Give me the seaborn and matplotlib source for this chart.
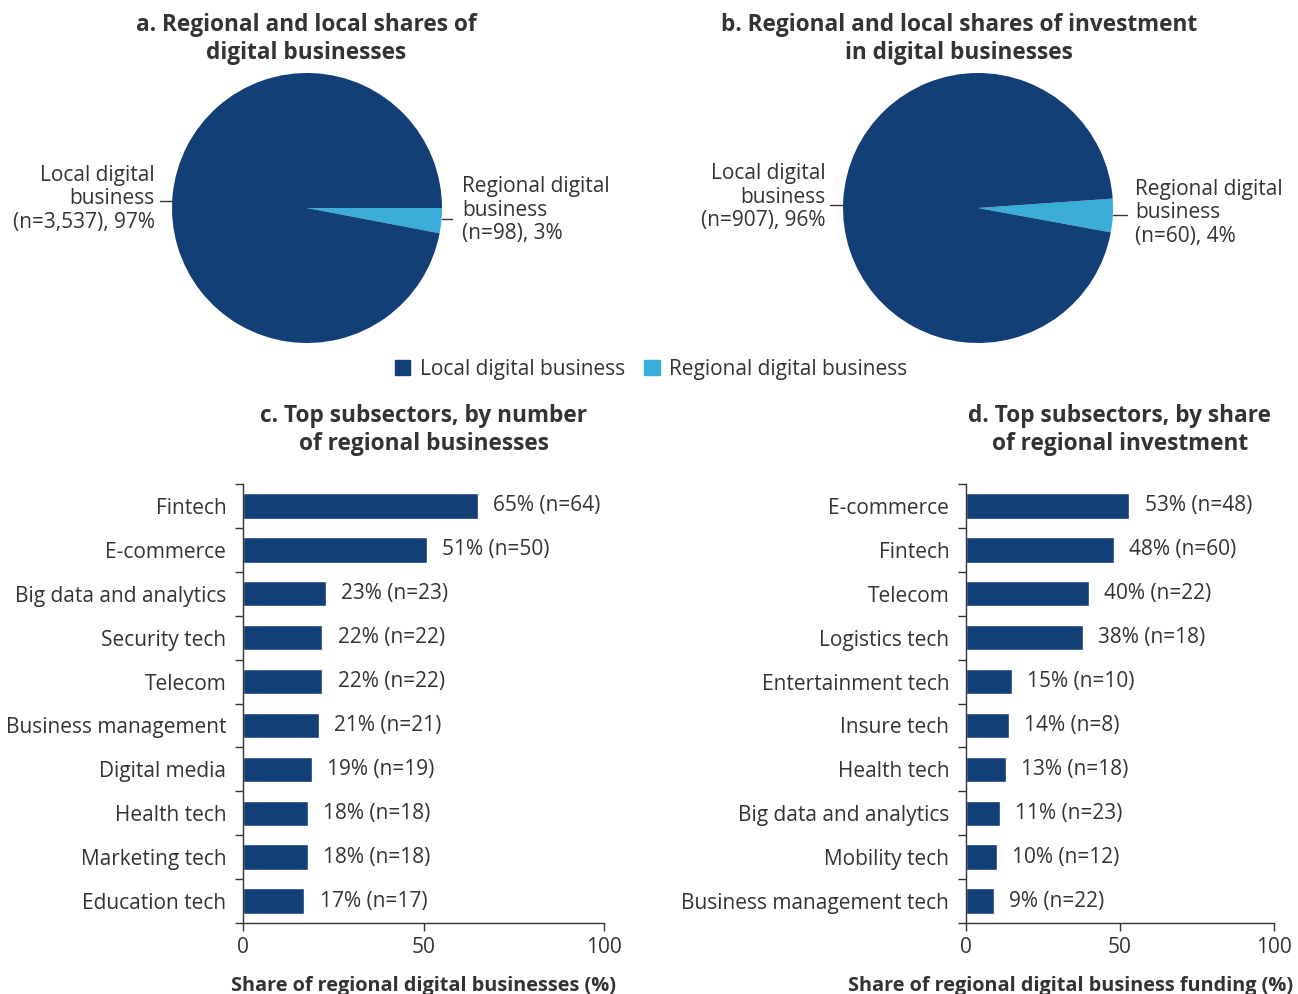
import numpy as np
import pandas as pd
import matplotlib
matplotlib.use("Agg")
import matplotlib.pyplot as plt
import seaborn as sns
from matplotlib.patches import Patch
from matplotlib.ticker import FixedLocator

# ---- data ----
pie_labels = ["Regional digital business", "Local digital business"]
pie_a_shares = [3, 97]
pie_a_n = [98, 3537]
pie_b_shares = [4, 96]
pie_b_n = [60, 907]

c_sectors = ["Fintech", "E-commerce", "Big data and analytics", "Security tech", "Telecom",
             "Business management", "Digital media", "Health tech", "Marketing tech",
             "Education tech"]
c_share = [65, 51, 23, 22, 22, 21, 19, 18, 18, 17]
c_n = [64, 50, 23, 22, 22, 21, 19, 18, 18, 17]

d_sectors = ["E-commerce", "Fintech", "Telecom", "Logistics tech", "Entertainment tech",
             "Insure tech", "Health tech", "Big data and analytics", "Mobility tech",
             "Business management tech"]
d_share = [53, 48, 40, 38, 15, 14, 13, 11, 10, 9]
d_n = [48, 60, 22, 18, 10, 8, 18, 23, 12, 22]

DARK = "#133f77"
LIGHT = "#3aaed8"
TXT = "#333333"

sns.set_theme(style="white")
plt.rcParams["font.family"] = ["Open Sans", "DejaVu Sans"]
plt.rcParams["text.color"] = TXT
plt.rcParams["axes.labelcolor"] = TXT
plt.rcParams["xtick.color"] = TXT
plt.rcParams["ytick.color"] = TXT

W, H = 1298, 994
fig = plt.figure(figsize=(W / 100, H / 100), dpi=100)


def px_axes(left, top, right, bottom):
    return fig.add_axes([left / W, 1 - bottom / H, (right - left) / W, (bottom - top) / H])


FS = 15
TFS = 16.3
XFS = 14.3


def draw_pie(ax, shares, n, start, local_xy, local_line, reg_xy, reg_line):
    ax.pie(shares, colors=[LIGHT, DARK], startangle=start, counterclock=False,
           radius=1, wedgeprops=dict(linewidth=0))
    ax.set_xlim(-1, 1)
    ax.set_ylim(-1, 1)
    ax.set_aspect("equal")
    ax.axis("off")
    ax.text(local_xy[0], local_xy[1],
            f"Local digital\nbusiness\n(n={n[1]:,}), {shares[1]}%",
            ha="right", va="center", fontsize=FS, linespacing=1.17, clip_on=False)
    ax.plot(local_line[0], local_line[1], color=TXT, lw=1, clip_on=False)
    ax.text(reg_xy[0], reg_xy[1],
            f"Regional digital\nbusiness\n(n={n[0]:,}), {shares[0]}%",
            ha="left", va="center", fontsize=FS, linespacing=1.17, clip_on=False)
    ax.plot(reg_line[0], reg_line[1], color=TXT, lw=1, clip_on=False)


ax_a = px_axes(172, 73, 442, 343)
draw_pie(ax_a, pie_a_shares, pie_a_n, 0,
         (-1.126, 0.067), ([-1.089, -1.0], [0.052, 0.052]),
         (1.148, -0.015), ([1.0, 1.074], [-0.081, -0.081]))

ax_b = px_axes(843, 73, 1113, 343)
draw_pie(ax_b, pie_b_shares, pie_b_n, 4,
         (-1.126, 0.081), ([-1.096, -1.0], [0.022, 0.022]),
         (1.163, -0.037), ([1.0, 1.10], [-0.052, -0.052]))

fig.text(306 / W, 1 - 39 / H, "a. Regional and local shares of\ndigital businesses",
         ha="center", va="center", fontsize=TFS, fontweight="bold", linespacing=1.18)
fig.text(959 / W, 1 - 39 / H, "b. Regional and local shares of investment\nin digital businesses",
         ha="center", va="center", fontsize=TFS, fontweight="bold", linespacing=1.18)

handles = [Patch(color=DARK, label="Local digital business"),
           Patch(color=LIGHT, label="Regional digital business")]
fig.legend(handles=handles, loc="center", bbox_to_anchor=(651 / W, 1 - 369 / H), ncol=2,
           frameon=False, fontsize=FS, handlelength=0.75, handleheight=0.75,
           handletextpad=0.45, columnspacing=0.9)


def draw_bars(ax, sectors, share, n, title, xlabel, title_x, xlabel_x):
    df = pd.DataFrame({"sector": sectors, "share": share})
    sns.barplot(data=df, x="share", y="sector", color=DARK, saturation=1, width=0.58,
                ax=ax, orient="h")
    ax.set_xlim(0, 100)
    ax.set_ylim(len(sectors) - 0.5, -0.5)
    ax.set_xticks([0, 50, 100])
    ax.tick_params(axis="x", length=6, width=1, labelsize=FS, pad=4, bottom=True)
    ax.tick_params(axis="y", which="major", length=0, labelsize=FS, pad=12)
    ax.yaxis.set_minor_locator(FixedLocator(np.arange(-0.5, len(sectors), 1)))
    ax.tick_params(axis="y", which="minor", length=6, width=1, left=True, color=TXT)
    for s in ["top", "right"]:
        ax.spines[s].set_visible(False)
    for s in ["left", "bottom"]:
        ax.spines[s].set_color(TXT)
        ax.spines[s].set_linewidth(1)
    ax.set_ylabel("")
    ax.set_xlabel(xlabel, fontsize=XFS, fontweight="bold")
    ax.xaxis.set_label_coords(xlabel_x, -0.12)
    ax.bar_label(ax.containers[0], labels=[f"{s}% (n={k})" for s, k in zip(share, n)],
                 padding=11, fontsize=FS, color=TXT)
    fig.text(title_x / W, 1 - 430 / H, title, ha="center", va="center",
             fontsize=TFS, fontweight="bold", linespacing=1.18)


ax_c = px_axes(243, 484, 604, 923)
draw_bars(ax_c, c_sectors, c_share, c_n,
          "c. Top subsectors, by number\nof regional businesses",
          "Share of regional digital businesses (%)", 424, 0.5)

ax_d = px_axes(966, 484, 1274, 923)
draw_bars(ax_d, d_sectors, d_share, d_n,
          "d. Top subsectors, by share\nof regional investment",
          "Share of regional digital business funding (%)", 1120, (1071 - 966) / 308)

fig.savefig("out.png", dpi=100)
